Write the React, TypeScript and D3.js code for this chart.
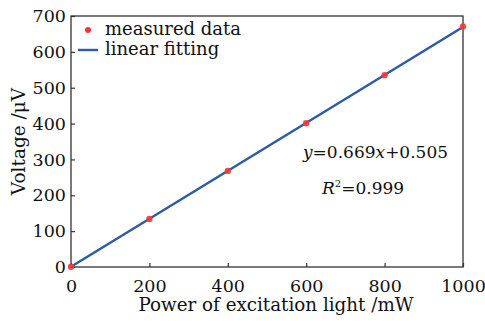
import * as d3 from "d3";
import React, { useEffect, useRef } from "react";

const powers = [0, 200, 400, 600, 800, 1000];
const voltages = [0.8, 134, 268, 401, 535, 671];
const fitSlope = 0.669;
const fitIntercept = 0.505;
const xTicks = [0, 200, 400, 600, 800, 1000];
const yTicks = [0, 100, 200, 300, 400, 500, 600, 700];

const W = 485;
const H = 321;
const margin = { top: 16, right: 22, bottom: 54, left: 71 };
const FONT = "DejaVu Serif, serif";

const App: React.FC = () => {
  const ref = useRef<SVGSVGElement>(null);

  useEffect(() => {
    const svg = d3.select(ref.current);
    svg.selectAll("*").remove();

    const width = W - margin.left - margin.right;
    const height = H - margin.top - margin.bottom;

    const x = d3.scaleLinear().domain([0, 1000]).range([0, width]);
    const y = d3.scaleLinear().domain([0, 700]).range([height, 0]);

    const g = svg
      .append("g")
      .attr("transform", "translate(" + margin.left + "," + margin.top + ")");

    // axes with inward ticks
    const xAxis = g
      .append("g")
      .attr("transform", "translate(0," + height + ")")
      .call(
        d3.axisBottom(x).tickValues(xTicks).tickFormat(d3.format("d"))
          .tickSize(-4).tickPadding(8).tickSizeOuter(0)
      );
    const yAxis = g
      .append("g")
      .call(
        d3.axisLeft(y).tickValues(yTicks).tickFormat(d3.format("d"))
          .tickSize(-4).tickPadding(5).tickSizeOuter(0)
      );

    [xAxis, yAxis].forEach((a) => {
      a.select(".domain").remove();
      a.selectAll("line").attr("stroke", "#333").attr("stroke-width", 1.2);
      a.selectAll("text")
        .attr("font-family", FONT)
        .attr("font-size", 17.5)
        .attr("fill", "#111");
    });
    xAxis.selectAll("text").attr("dy", "0.95em");

    // frame
    g.append("rect")
      .attr("width", width)
      .attr("height", height)
      .attr("fill", "none")
      .attr("stroke", "#333")
      .attr("stroke-width", 1.3);

    // fitted line
    const line = d3
      .line<number>()
      .x((d) => x(d))
      .y((d) => y(fitSlope * d + fitIntercept));
    g.append("path")
      .datum([0, 1000])
      .attr("d", line)
      .attr("fill", "none")
      .attr("stroke", "#2a5aa8")
      .attr("stroke-width", 2.4);

    // measured points
    g.selectAll(".pt")
      .data(powers)
      .join("circle")
      .attr("class", "pt")
      .attr("cx", (d) => x(d))
      .attr("cy", (_d, i) => y(voltages[i]))
      .attr("r", 3.2)
      .attr("fill", "#ee3a36")
      .attr("opacity", 0.9);

    // legend
    const leg = g.append("g");
    leg.append("circle").attr("cx", 17).attr("cy", 14).attr("r", 3).attr("fill", "#ee3a36");
    leg.append("text")
      .attr("x", 34).attr("y", 19)
      .attr("font-family", FONT).attr("font-size", 18).attr("fill", "#111")
      .text("measured data");
    leg.append("line")
      .attr("x1", 7).attr("x2", 27).attr("y1", 34).attr("y2", 34)
      .attr("stroke", "#2a5aa8").attr("stroke-width", 2.4);
    leg.append("text")
      .attr("x", 34).attr("y", 39)
      .attr("font-family", FONT).attr("font-size", 18).attr("fill", "#111")
      .text("linear fitting");

    // equation
    const eq = g.append("text")
      .attr("x", 232).attr("y", 142)
      .attr("font-family", FONT).attr("font-size", 17).attr("fill", "#111");
    eq.append("tspan").attr("font-style", "italic").text("y");
    eq.append("tspan").text("=0.669");
    eq.append("tspan").attr("font-style", "italic").text("x");
    eq.append("tspan").text("+0.505");

    const r2 = g.append("text")
      .attr("x", 251).attr("y", 178)
      .attr("font-family", FONT).attr("font-size", 17).attr("fill", "#111");
    r2.append("tspan").attr("font-style", "italic").text("R");
    r2.append("tspan").attr("font-size", 10).attr("dy", -7).text("2");
    r2.append("tspan").attr("dy", 7).text("=0.999");

    // axis titles
    g.append("text")
      .attr("x", width / 2 + 9).attr("y", height + 44)
      .attr("text-anchor", "middle")
      .attr("font-family", FONT).attr("font-size", 18.3).attr("fill", "#111")
      .text("Power of excitation light /mW");
    g.append("text")
      .attr("transform", "translate(" + -46 + "," + height / 2 + ") rotate(-90)")
      .attr("text-anchor", "middle")
      .attr("font-family", FONT).attr("font-size", 18.5).attr("fill", "#111")
      .text("Voltage /μV");
  }, []);

  return (
    <svg
      ref={ref}
      width={W}
      height={H}
      style={{ position: "absolute", left: 0, top: 0, background: "#fff" }}
    />
  );
};

export default App;
